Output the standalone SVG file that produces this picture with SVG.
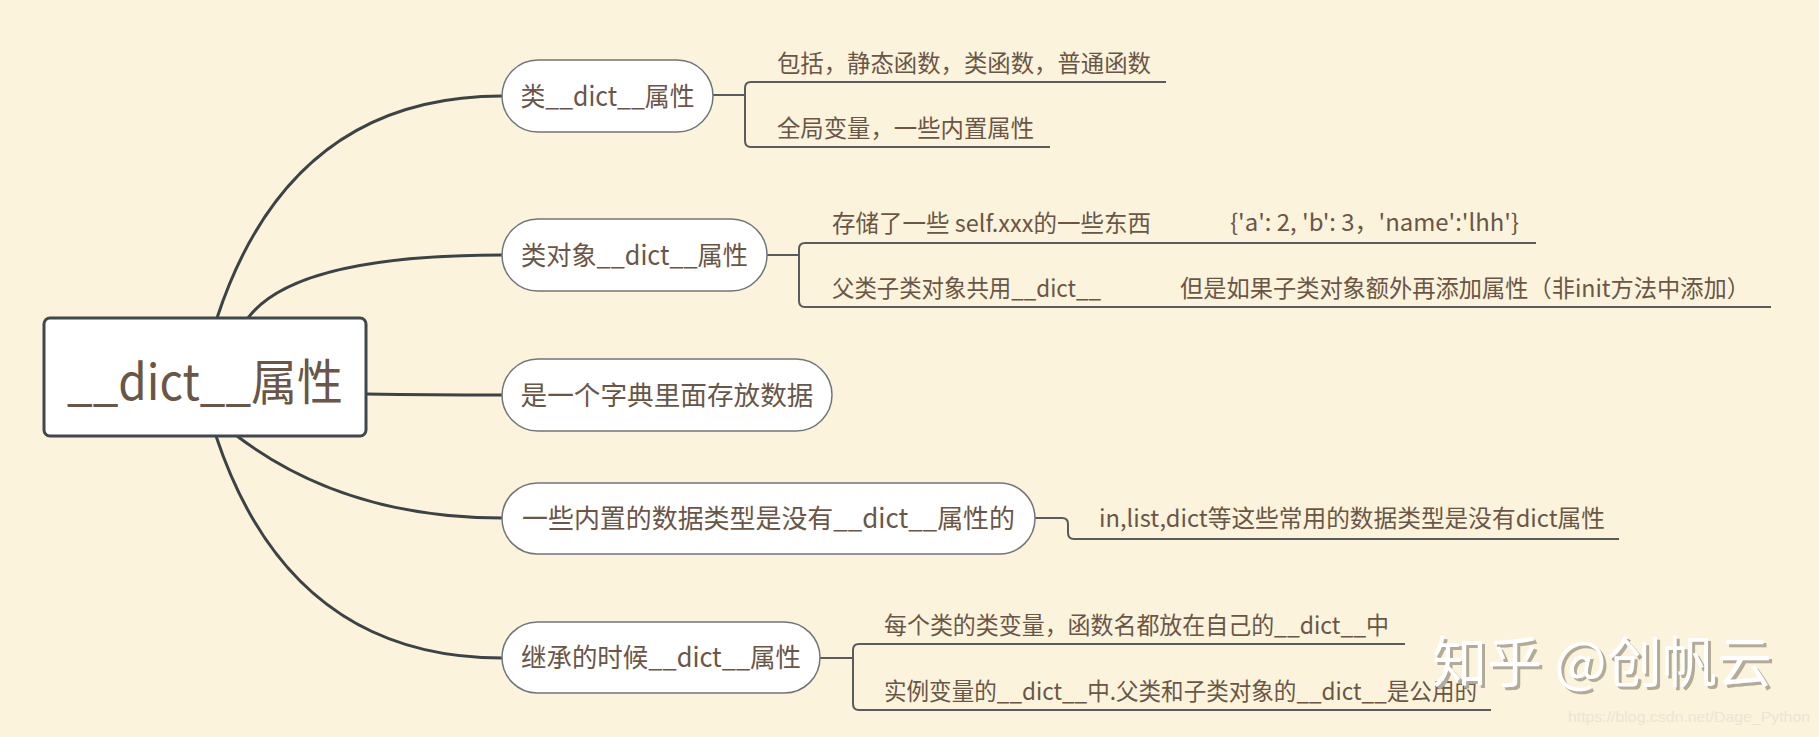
<svg xmlns="http://www.w3.org/2000/svg" width="1819" height="737" viewBox="0 0 1819 737">
<style>
  .bg{fill:#fbf3dc}
  .root{fill:#ffffff;stroke:#3f484c;stroke-width:3}
  .pill{fill:#ffffff;stroke:#6f7679;stroke-width:1.5}
  .conn{fill:none;stroke:#3b4346;stroke-width:3;stroke-linecap:round}
  .sub{fill:none;stroke:#585c5d;stroke-width:2}
  text{font-family:"Noto Sans CJK SC","Noto Sans",sans-serif;fill:#6a5646}
  .rt{font-size:49px;text-anchor:middle}
  .nt{font-size:26.5px;text-anchor:middle}
  .lt{font-size:23.4px}
  .wm{font-size:55px}
</style>
<rect class="bg" x="0" y="0" width="1819" height="737"/>

<g id="connectors">
  <path class="conn" d="M217 318 Q290 96 502 96"/>
  <path class="conn" d="M248 318 Q295 255 502 255"/>
  <path class="conn" d="M366 394 Q430 395 502 395"/>
  <path class="conn" d="M237 436 Q345 518 502 518"/>
  <path class="conn" d="M216 436 Q290 658 502 658"/>
  <!-- node1 children -->
  <path class="sub" d="M713 95 H745"/>
  <path class="sub" d="M1166 82 H751 Q745 82 745 88 V141 Q745 147 751 147 H1050"/>
  <!-- node2 children -->
  <path class="sub" d="M767 255 H799"/>
  <path class="sub" d="M1168 243 H805 Q799 243 799 249 V301 Q799 307 805 307 H1118"/>
  <path class="sub" d="M1168 243 H1536"/>
  <path class="sub" d="M1118 307 H1771"/>
  <!-- node4 child -->
  <path class="sub" d="M1035 518 H1062 Q1068 518 1068 524 V533 Q1068 539 1074 539 H1619"/>
  <!-- node5 children -->
  <path class="sub" d="M820 658 H853"/>
  <path class="sub" d="M1405 644 H859 Q853 644 853 650 V704 Q853 710 859 710 H1491"/>
</g>

<g id="root">
  <rect class="root" x="44" y="318" width="322" height="118" rx="6"/>
  <text class="rt" x="205" y="400" textLength="276" lengthAdjust="spacingAndGlyphs">__dict__属性</text>
</g>

<g id="node1">
  <rect class="pill" x="502" y="60" width="211" height="72" rx="36"/>
  <text class="nt" x="607.5" y="106" textLength="174" lengthAdjust="spacingAndGlyphs">类__dict__属性</text>
</g>
<g id="node2">
  <rect class="pill" x="502" y="219" width="265" height="72" rx="36"/>
  <text class="nt" x="634.5" y="265" textLength="227" lengthAdjust="spacingAndGlyphs">类对象__dict__属性</text>
</g>
<g id="node3">
  <rect class="pill" x="502" y="359" width="330" height="72" rx="36"/>
  <text class="nt" x="667" y="405" textLength="293" lengthAdjust="spacingAndGlyphs">是一个字典里面存放数据</text>
</g>
<g id="node4">
  <rect class="pill" x="502" y="483" width="533" height="71" rx="35.5"/>
  <text class="nt" x="768.5" y="528" textLength="493" lengthAdjust="spacingAndGlyphs">一些内置的数据类型是没有__dict__属性的</text>
</g>
<g id="node5">
  <rect class="pill" x="502" y="622" width="318" height="71" rx="35.5"/>
  <text class="nt" x="661" y="667" textLength="280" lengthAdjust="spacingAndGlyphs">继承的时候__dict__属性</text>
</g>

<g id="leaf1a"><text class="lt" x="777" y="72" textLength="374" lengthAdjust="spacingAndGlyphs">包括，静态函数，类函数，普通函数</text></g>
<g id="leaf1b"><text class="lt" x="777" y="137" textLength="257" lengthAdjust="spacingAndGlyphs">全局变量，一些内置属性</text></g>
<g id="leaf2a"><text class="lt" x="832" y="232" textLength="319" lengthAdjust="spacingAndGlyphs">存储了一些 self.xxx的一些东西</text></g>
<g id="leaf2a1"><text class="lt" x="1230" y="231" textLength="289" lengthAdjust="spacingAndGlyphs">{'a': 2, 'b': 3，'name':'lhh'}</text></g>
<g id="leaf2b"><text class="lt" x="832" y="297" textLength="269" lengthAdjust="spacingAndGlyphs">父类子类对象共用__dict__</text></g>
<g id="leaf2b1"><text class="lt" x="1180" y="297" textLength="570" lengthAdjust="spacingAndGlyphs">但是如果子类对象额外再添加属性（非init方法中添加）</text></g>
<g id="leaf4a"><text class="lt" x="1099" y="527" textLength="506" lengthAdjust="spacingAndGlyphs">in,list,dict等这些常用的数据类型是没有dict属性</text></g>
<g id="leaf5a"><text class="lt" x="884" y="634" textLength="505" lengthAdjust="spacingAndGlyphs">每个类的类变量，函数名都放在自己的__dict__中</text></g>
<g id="leaf5b"><text class="lt" x="884" y="700" textLength="593" lengthAdjust="spacingAndGlyphs">实例变量的__dict__中.父类和子类对象的__dict__是公用的</text></g>

<g id="watermark">
  <text class="wm" x="1435" y="685" textLength="340" lengthAdjust="spacingAndGlyphs" style="fill:#b3aa98">知乎 @创帆云</text>
  <text class="wm" x="1432" y="682" textLength="340" lengthAdjust="spacingAndGlyphs" style="fill:#ffffff">知乎 @创帆云</text>
  <text x="1568" y="722" textLength="242" lengthAdjust="spacingAndGlyphs" style="font-family:'Liberation Sans',sans-serif;font-size:15px;fill:#ebe5d5">https://blog.csdn.net/Dage_Python</text>
</g>
</svg>
